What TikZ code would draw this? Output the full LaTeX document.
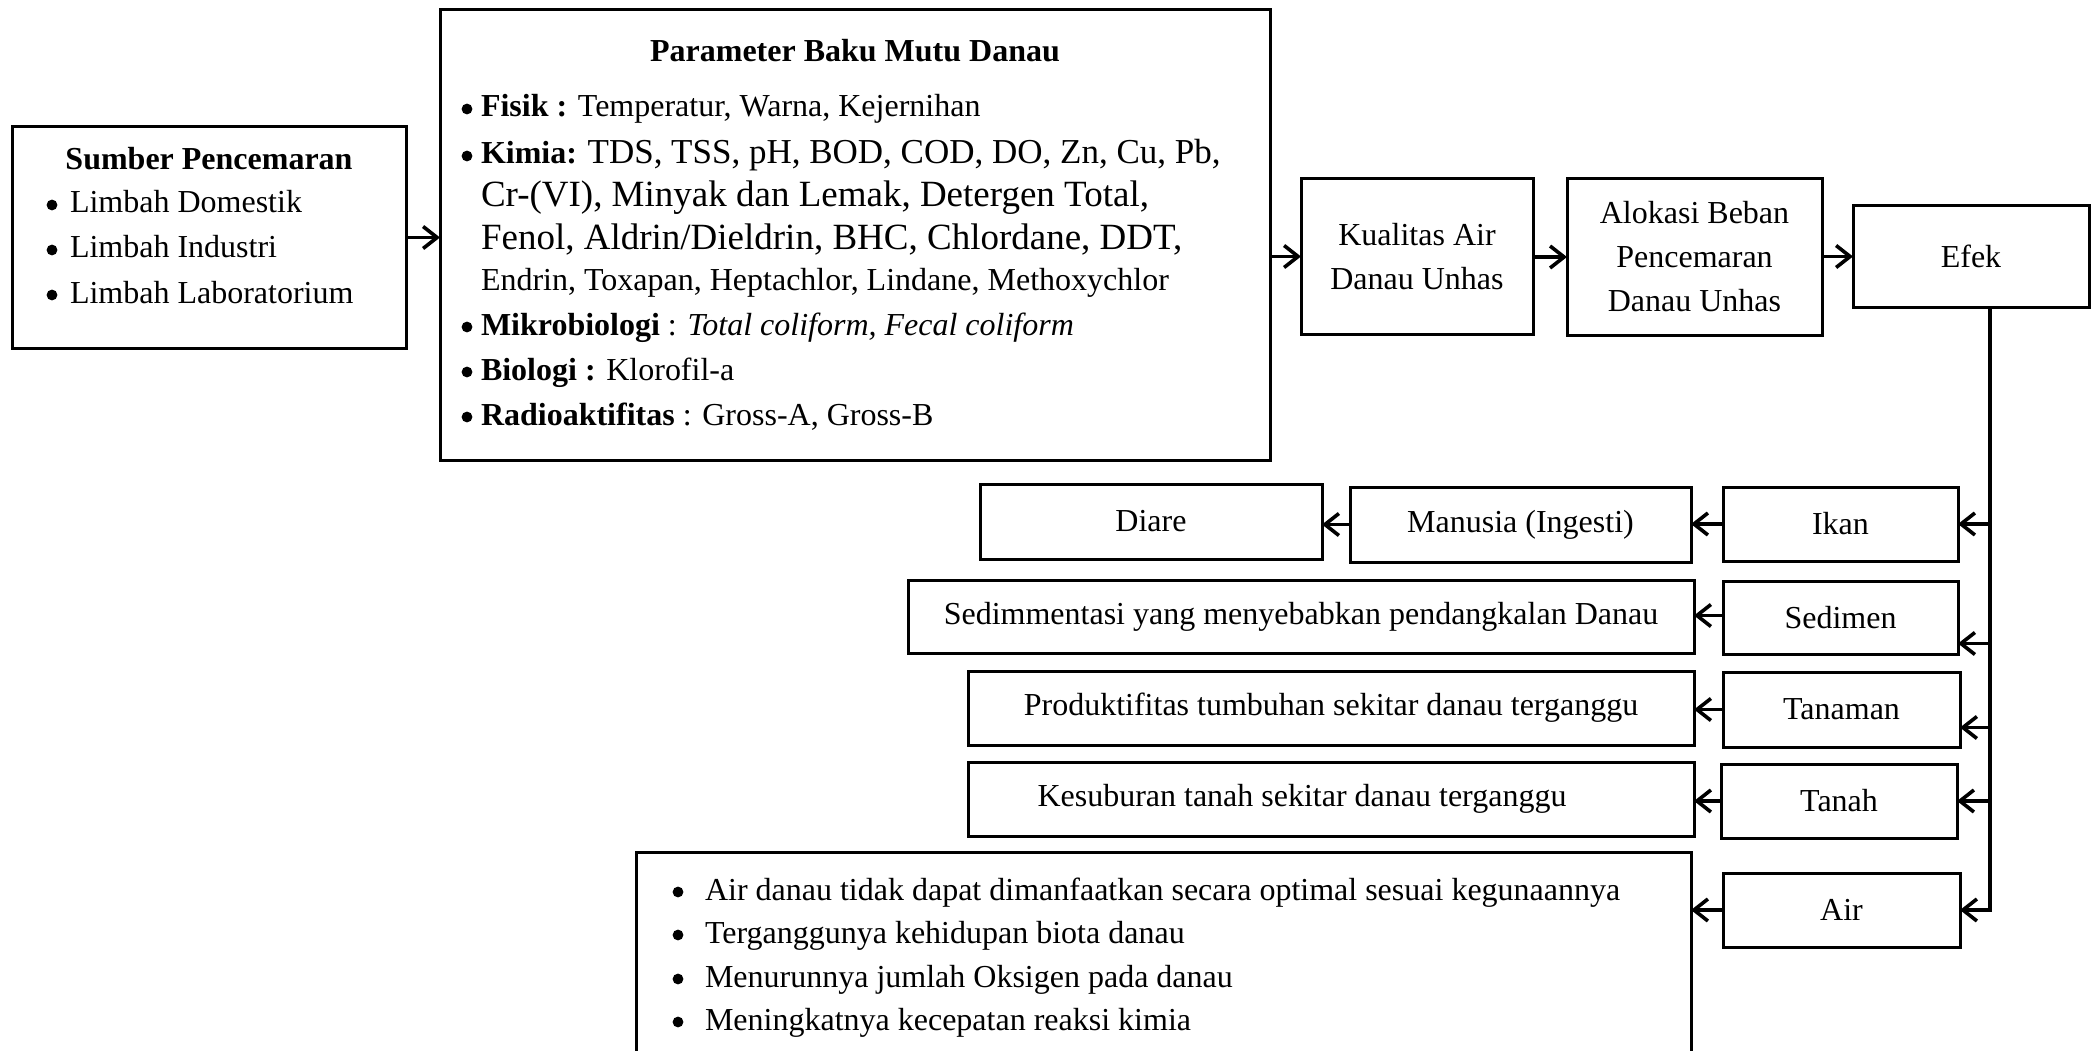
\documentclass[tikz,border=0pt]{standalone}
\usepackage{fontspec}
\setmainfont{Liberation Serif}
\usetikzlibrary{arrows.meta}
\begin{document}
\begin{tikzpicture}[x=1pt,y=-1pt,
  every node/.style={font=\fontsize{32}{44}\selectfont, inner sep=0pt, outer sep=0pt},
  box/.style={draw, line width=3pt, align=center},
  arr/.style={line width=3.2pt, -{Straight Barb[length=14pt, width=22pt, line width=3.6pt]}},
  dot/.style={fill=black}]
\useasboundingbox (0,0) rectangle (2096,1051);
\fill[white] (0,0) rectangle (2096,1051);

% top row boxes
\node[box, minimum width=394pt, minimum height=221pt] (sumber) at (209,237.5) {};
\node[box, minimum width=830pt, minimum height=450pt] (param) at (855,235) {};
\node[box, minimum width=232pt, minimum height=155pt] (kual) at (1417,256.5) {Kualitas Air\\Danau Unhas};
\node[box, minimum width=255pt, minimum height=156pt] (alok) at (1694.5,257) {Alokasi Beban\\Pencemaran\\Danau Unhas};
\node[box, minimum width=236pt, minimum height=101pt] (efek) at (1971,256.5) {Efek};

% Sumber text
\node[anchor=base, font=\fontsize{32}{44}\selectfont\bfseries] (stitle) at (209,170) {Sumber Pencemaran};
\node[anchor=base west] (s1) at (70,213) {Limbah Domestik};
\node[anchor=base west] (s2) at (70,258) {Limbah Industri};
\node[anchor=base west] (s3) at (70,303) {Limbah Laboratorium};

% Parameter text
\node[anchor=base, font=\fontsize{32}{44}\selectfont\bfseries] (ptitle) at (855,62) {Parameter Baku Mutu Danau};
\node[anchor=base west] (p1) at (481,117) {\textbf{Fisik :} Temperatur, Warna, Kejernihan};
\node[anchor=base west] (p2) at (481,164) {\textbf{Kimia:} {\fontsize{35}{44}\selectfont TDS, TSS, pH, BOD, COD, DO, Zn, Cu, Pb,}};
\node[anchor=base west, font=\fontsize{37}{44}\selectfont] (p3) at (481,207) {Cr-(VI), Minyak dan Lemak, Detergen Total,};
\node[anchor=base west, font=\fontsize{37}{44}\selectfont] (p4) at (481,249) {Fenol, Aldrin/Dieldrin, BHC, Chlordane, DDT,};
\node[anchor=base west] (p5) at (481,290) {Endrin, Toxapan, Heptachlor, Lindane, Methoxychlor};
\node[anchor=base west] (p6) at (481,335) {\textbf{Mikrobiologi} : \textit{Total coliform, Fecal coliform}};
\node[anchor=base west] (p7) at (481,380) {\textbf{Biologi :} Klorofil-a};
\node[anchor=base west] (p8) at (481,425) {\textbf{Radioaktifitas} : Gross-A, Gross-B};

% effect boxes
\node[box, minimum width=342pt, minimum height=75pt] (diare) at (1151,521.5) {Diare};
\node[box, minimum width=341pt, minimum height=75pt] (manusia) at (1520.5,524.5) {Manusia (Ingesti)};
\node[box, minimum width=235pt, minimum height=74pt] (ikan) at (1840.5,524) {Ikan};
\node[box, minimum width=786pt, minimum height=73pt] (sedtasi) at (1301,616.5) {Sedimmentasi yang menyebabkan pendangkalan Danau};
\node[box, minimum width=235pt, minimum height=73pt] (sedimen) at (1840.5,617.5) {Sedimen};
\node[box, minimum width=726pt, minimum height=74pt] (produk) at (1331,708) {Produktifitas tumbuhan sekitar danau terganggu};
\node[box, minimum width=237pt, minimum height=75pt] (tanaman) at (1841.5,709.5) {Tanaman};
\node[box, minimum width=726pt, minimum height=74pt] (kesub) at (1331,799) {\hspace*{-58pt}Kesuburan tanah sekitar danau terganggu};
\node[box, minimum width=236pt, minimum height=74pt] (tanah) at (1839,801) {Tanah};
\node[box, minimum width=237pt, minimum height=74pt] (air) at (1841.5,910) {Air};
\node[box, minimum width=1055pt, minimum height=222pt] (akibat) at (1163.5,963) {};

\node[anchor=base west] (b1) at (705,900) {Air danau tidak dapat dimanfaatkan secara optimal sesuai kegunaannya};
\node[anchor=base west] (b2) at (705,943) {Terganggunya kehidupan biota danau};
\node[anchor=base west] (b3) at (705,987) {Menurunnya jumlah Oksigen pada danau};
\node[anchor=base west] (b4) at (705,1030) {Meningkatnya kecepatan reaksi kimia};

% bullets
\foreach \n in {s1,s2,s3}
  \fill[dot] ([xshift=-18pt,yshift=8pt]\n.base west) circle (5.4pt);
\foreach \n in {p1,p2,p6,p7,p8}
  \fill[dot] ([xshift=-14pt,yshift=8pt]\n.base west) circle (5.4pt);
\foreach \n in {b1,b2,b3,b4}
  \fill[dot] ([xshift=-27pt,yshift=8pt]\n.base west) circle (5.4pt);

% top connectors
\draw[arr] (sumber.east) -- (sumber.east -| param.west);
\draw[arr] (kual.west -| param.east) -- (kual.west);
\draw[arr] (alok.west -| kual.east) -- (alok.west);
\draw[arr] (efek.west -| alok.east) -- (efek.west);

% trunk
\coordinate (trunk) at ([xshift=19pt]efek.south);
\draw[arr] (trunk) |- (air.east);
\draw[arr] (ikan.east -| trunk) -- (ikan.east);
\draw[arr] ([yshift=-26pt]sedimen.east -| trunk) -- ([yshift=-26pt]sedimen.east);
\draw[arr] ([yshift=-18pt]tanaman.east -| trunk) -- ([yshift=-18pt]tanaman.east);
\draw[arr] (tanah.east -| trunk) -- (tanah.east);

% chains
\draw[arr] (ikan.west) -- (ikan.west -| manusia.east);
\draw[arr] (manusia.west) -- (manusia.west -| diare.east);
\draw[arr] ([yshift=2pt]sedimen.west) -- ([yshift=2pt]sedimen.west -| sedtasi.east);
\draw[arr] (tanaman.west) -- (tanaman.west -| produk.east);
\draw[arr] (tanah.west) -- (tanah.west -| kesub.east);
\draw[arr] (air.west) -- (air.west -| akibat.east);
\end{tikzpicture}
\end{document}
